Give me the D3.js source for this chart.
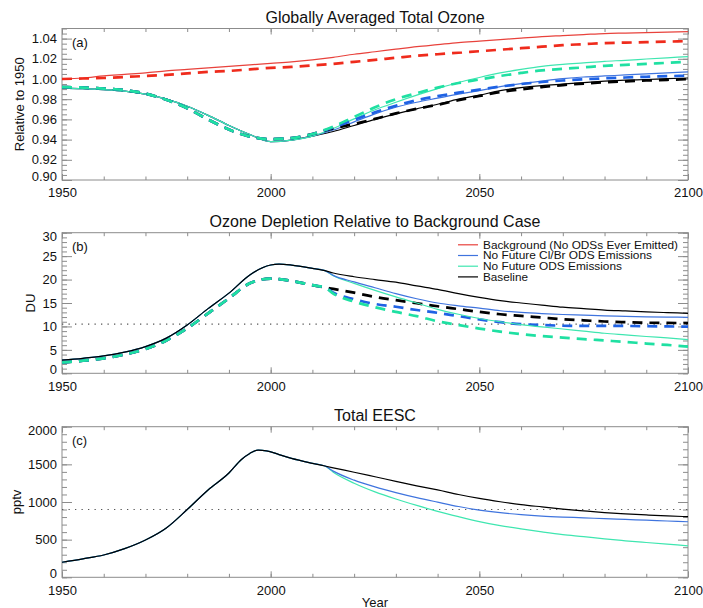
<!DOCTYPE html>
<html>
<head>
<meta charset="utf-8">
<script src="https://cdn.jsdelivr.net/npm/d3@7"></script>
<style>
  body { margin: 0; background: #fff; }
  svg { display: block; }
  text { font-family: "Liberation Sans", Arial, Helvetica, sans-serif; fill: #111; }
</style>
</head>
<body>
<svg id="chart" width="703" height="608"></svg>
<script>
// ---------------- Panel (a): globally averaged total ozone, relative to 1950 ----------------
const ozoneYearsShared = [1950,1955,1960,1965,1970,1975,1980,1985,1990,1995,2000,2005,2010];
const ozoneYearsBranch = [2015,2020,2025,2030,2035,2040,2045,2050,2055,2060,2065,2070,2075,2080,2085,2090,2095,2100];

const ozoneBackgroundSolid = [1.000,1.001,1.003,1.0045,1.006,1.008,1.0095,1.011,1.0125,1.014,1.0155,1.017,1.019,
  1.0215,1.0245,1.027,1.0295,1.032,1.034,1.036,1.0375,1.039,1.0405,1.042,1.043,1.044,1.045,1.0455,1.046,1.0465,1.047];
const ozoneBackgroundDashed = [1.000,1.0005,1.001,1.002,1.003,1.004,1.0055,1.007,1.008,1.0095,1.011,1.012,1.0135,
  1.015,1.017,1.019,1.021,1.023,1.0245,1.026,1.0275,1.029,1.0305,1.032,1.0335,1.0345,1.0355,1.036,1.0365,1.037,1.0375];

const ozoneSolidShared  = [0.991,0.9905,0.9895,0.988,0.985,0.980,0.973,0.964,0.954,0.945,0.938,0.9395,0.9435];
const ozoneDashedShared = [0.992,0.9915,0.9905,0.989,0.9855,0.9795,0.971,0.960,0.950,0.943,0.9405,0.9415,0.9455];

const ozoneBaselineSolid = [0.948,0.954,0.960,0.9655,0.9705,0.975,0.980,0.984,0.9885,0.9915,0.9935,0.995,0.9965,0.9978,0.9988,0.9995,1.0003,1.001];
const ozoneNoClBrSolid   = [0.9495,0.9575,0.9655,0.972,0.977,0.981,0.985,0.9885,0.9925,0.9955,0.998,1.0003,1.002,1.003,1.004,1.005,1.006,1.007];
const ozoneNoOdsSolid    = [0.951,0.9605,0.9695,0.977,0.984,0.9905,0.9965,1.0015,1.006,1.0095,1.0125,1.0145,1.016,1.0175,1.0185,1.0198,1.021,1.0222];

const ozoneBaselineDashed = [0.951,0.9555,0.9605,0.966,0.9705,0.9745,0.979,0.9832,0.987,0.9898,0.992,0.994,0.9955,0.9967,0.9977,0.9985,0.9992,0.9998];
const ozoneNoClBrDashed   = [0.952,0.9595,0.967,0.9735,0.979,0.983,0.9865,0.9895,0.9925,0.995,0.997,0.9985,0.9997,1.0007,1.0015,1.0022,1.0028,1.0033];
const ozoneNoOdsDashed    = [0.953,0.9625,0.972,0.980,0.986,0.9915,0.996,0.9995,1.003,1.006,1.0085,1.010,1.0115,1.013,1.014,1.015,1.016,1.017];
const ozoneTicks = [0.90,0.92,0.94,0.96,0.98,1.00,1.02,1.04];

// ---------------- Panel (b): ozone depletion relative to background (DU) ----------------
const depYearsShared = [1950,1955,1960,1965,1970,1975,1980,1985,1990,1995,2000,2002,2005,2010,2013];
const depYearsBranch = [2015,2020,2025,2030,2035,2040,2045,2050,2055,2060,2065,2070,2075,2080,2085,2090,2095,2100];

const depSolidShared  = [2.8,3.2,3.7,4.5,5.7,7.5,10.3,13.8,17.1,21.0,23.1,23.3,23.1,22.4,21.9];
const depDashedShared = [2.3,2.7,3.2,4.0,5.2,7.0,9.6,12.8,16.0,19.2,20.2,20.1,19.7,18.8,18.3];

const depBaselineSolid = [21.4,20.6,20.0,19.45,18.65,17.9,17.0,16.2,15.5,15.0,14.55,14.1,13.8,13.5,13.3,13.1,12.95,12.8];
const depNoClBrSolid   = [20.9,19.5,18.25,17.0,15.9,15.0,14.4,13.9,13.35,13.0,12.75,12.55,12.4,12.25,12.15,12.05,12.0,11.95];
const depNoOdsSolid    = [20.8,19.2,17.7,16.3,15.0,13.65,12.6,11.7,11.0,10.4,9.9,9.45,9.0,8.55,8.2,7.85,7.55,7.2];

const depBaselineDashed = [18.0,17.2,16.3,15.6,14.95,14.3,13.7,13.1,12.6,12.25,11.9,11.55,11.3,11.05,10.9,10.8,10.75,10.7];
const depNoClBrDashed   = [17.2,15.8,14.8,14.2,13.5,12.9,12.2,11.5,10.9,10.5,10.3,10.15,10.1,10.1,10.1,10.05,10.0,9.95];
const depNoOdsDashed    = [17.0,15.3,14.1,13.1,12.2,11.1,10.3,9.55,8.9,8.35,7.95,7.6,7.3,7.0,6.7,6.35,6.05,5.7];
const depReference = 10.5;
const depTicks = [0,5,10,15,20,25,30];

// ---------------- Panel (c): total EESC (pptv) ----------------
const eescYearsShared = [1950,1955,1960,1965,1970,1975,1980,1985,1990,1993,1995,1997,1999,2002,2005,2010,2013];
const eescYearsBranch = [2015,2020,2025,2030,2035,2040,2045,2050,2055,2060,2065,2070,2075,2080,2085,2090,2095,2100];

const eescShared   = [200,245,296,380,495,655,900,1160,1385,1565,1645,1690,1680,1630,1580,1514,1478];
const eescBaseline = [1454,1395,1335,1275,1215,1160,1100,1047,1003,965,935,906,882,860,843,828,815,805];
const eescNoClBr   = [1410,1290,1200,1125,1058,998,940,893,858,832,813,800,790,778,768,758,748,738];
const eescNoOds    = [1395,1250,1135,1040,955,875,805,740,687,643,603,567,540,510,485,462,440,418];
const eescReference = 900;
const eescTicks = [0,500,1000,1500,2000];

// ---------------- Legend / scenarios ----------------
const scenarioNames = ["Background (No ODSs Ever Emitted)", "No Future Cl/Br ODS Emissions", "No Future ODS Emissions", "Baseline"];
const yearTicks = [1950,2000,2050,2100];

const colors = {
  background: "#e8423c", backgroundDash: "#ef2b1c",
  noClBr: "#3f74de", noClBrDash: "#1f62e4",
  noOds: "#3fe6b0", noOdsDash: "#1fe0a2",
  baseline: "#000000", baselineDash: "#000000"
};
const legendColors = [colors.background, colors.noClBr, colors.noOds, colors.baseline];

// ---------------- Layout ----------------
const svg = d3.select("#chart");
svg.append("rect").attr("width", 703).attr("height", 608).attr("fill", "#fff");

const X0 = 62, X1 = 688;
const x = d3.scaleLinear().domain([1950, 2100]).range([X0, X1]);
const frameColor = "#8c8c8c";

function series(ys, vs, yb, vb) {
  const years = ys.concat(yb), vals = vs.concat(vb);
  return years.map((yr, i) => ({ year: yr, v: vals[i] }));
}

function drawPanel(cfg) {
  const y = d3.scaleLinear().domain(cfg.domain).range([cfg.bottom, cfg.top]);
  const g = svg.append("g");
  const clipId = "clip-" + cfg.key;
  svg.append("clipPath").attr("id", clipId).append("rect")
    .attr("x", X0).attr("y", cfg.top).attr("width", X1 - X0).attr("height", cfg.bottom - cfg.top);

  // minor and major ticks on all four sides, pointing inward
  const xMinor = d3.range(1950, 2101, 10);
  const addAxis = (gen, tx, ty) => {
    const a = g.append("g").attr("transform", `translate(${tx},${ty})`).call(gen);
    a.select(".domain").remove();
    a.selectAll("line").attr("stroke", frameColor).attr("stroke-width", 1);
    a.selectAll("text").attr("font-size", 13).attr("fill", "#111")
      .attr("font-family", "'Liberation Sans', Arial, sans-serif");
    return a;
  };
  addAxis(d3.axisBottom(x).tickValues(xMinor).tickSize(-3.5).tickFormat(""), 0, cfg.bottom);
  addAxis(d3.axisTop(x).tickValues(xMinor).tickSize(-3.5).tickFormat(""), 0, cfg.top);
  addAxis(d3.axisBottom(x).tickValues(yearTicks).tickSize(-6).tickPadding(8).tickFormat(d3.format("d")), 0, cfg.bottom);
  addAxis(d3.axisTop(x).tickValues(yearTicks).tickSize(-6).tickFormat(""), 0, cfg.top);

  addAxis(d3.axisLeft(y).tickValues(cfg.minor).tickSize(-5).tickFormat(""), X0, 0);
  addAxis(d3.axisRight(y).tickValues(cfg.minor).tickSize(-5).tickFormat(""), X1, 0);
  const yAx = addAxis(d3.axisLeft(y).tickValues(cfg.ticks).tickSize(-10).tickPadding(5).tickFormat(cfg.fmt), X0, 0);
  addAxis(d3.axisRight(y).tickValues(cfg.ticks).tickSize(-10).tickFormat(""), X1, 0);

  // labels sitting on the frame edges are nudged inside the frame height
  const [d0, d1] = cfg.domain;
  yAx.selectAll(".tick text").attr("dy", d => {
    if (Math.abs(d - d0) < 1e-9) return "-0.0em";
    if (Math.abs(d - d1) < 1e-9) return "0.62em";
    return "0.32em";
  });

  g.append("rect").attr("x", X0).attr("y", cfg.top).attr("width", X1 - X0).attr("height", cfg.bottom - cfg.top)
    .attr("fill", "none").attr("stroke", frameColor).attr("stroke-width", 1);

  const plot = g.append("g").attr("clip-path", `url(#${clipId})`);

  if (cfg.reference !== undefined) {
    plot.append("line").attr("x1", X0).attr("x2", X1)
      .attr("y1", y(cfg.reference)).attr("y2", y(cfg.reference))
      .attr("stroke", "#555").attr("stroke-width", 1.1).attr("stroke-dasharray", "1.3,5.2");
  }

  const line = d3.line().x(d => x(d.year)).y(d => y(d.v)).curve(d3.curveMonotoneX);
  cfg.lines.forEach(l => {
    plot.append("path").datum(l.data).attr("d", line)
      .attr("fill", "none").attr("stroke", l.color)
      .attr("stroke-width", l.dashed ? 2.7 : 1.2)
      .attr("stroke-dasharray", l.dashed ? "10,7" : null)
      .attr("stroke-linejoin", "round");
  });

  // title, panel letter, y-axis title
  g.append("text").attr("x", (X0 + X1) / 2).attr("y", cfg.titleY).attr("text-anchor", "middle")
    .attr("font-size", 16).text(cfg.title);
  g.append("text").attr("x", 72).attr("y", cfg.top + 18).attr("font-size", 13).text(cfg.letter);
  g.append("text").attr("transform", `translate(${cfg.ylabelX},${(cfg.top + cfg.bottom) / 2}) rotate(-90)`)
    .attr("text-anchor", "middle").attr("font-size", 13).text(cfg.ylabel);
  return { g, y };
}

// Panel (a)
drawPanel({
  key: "a", top: 28.5, bottom: 180, domain: [0.9, 1.05],
  ticks: ozoneTicks, minor: d3.range(0, 31).map(i => 0.9 + i * 0.005), fmt: d3.format(".2f"),
  title: "Globally Averaged Total Ozone", titleY: 22.5, letter: "(a)",
  ylabel: "Relative to 1950", ylabelX: 24,
  lines: [
    { data: series(ozoneYearsShared, ozoneSolidShared, ozoneYearsBranch, ozoneBaselineSolid), color: colors.baseline },
    { data: series(ozoneYearsShared, ozoneSolidShared, ozoneYearsBranch, ozoneNoClBrSolid), color: colors.noClBr },
    { data: series(ozoneYearsShared, ozoneSolidShared, ozoneYearsBranch, ozoneNoOdsSolid), color: colors.noOds },
    { data: series(ozoneYearsShared, ozoneDashedShared, ozoneYearsBranch, ozoneBaselineDashed), color: colors.baselineDash, dashed: true },
    { data: series(ozoneYearsShared, ozoneDashedShared, ozoneYearsBranch, ozoneNoClBrDashed), color: colors.noClBrDash, dashed: true },
    { data: series(ozoneYearsShared, ozoneDashedShared, ozoneYearsBranch, ozoneNoOdsDashed), color: colors.noOdsDash, dashed: true },
    { data: series(ozoneYearsShared, ozoneBackgroundSolid.slice(0, 13), ozoneYearsBranch, ozoneBackgroundSolid.slice(13)), color: colors.background },
    { data: series(ozoneYearsShared, ozoneBackgroundDashed.slice(0, 13), ozoneYearsBranch, ozoneBackgroundDashed.slice(13)), color: colors.backgroundDash, dashed: true }
  ]
});

// Panel (b)
const pb = drawPanel({
  key: "b", top: 232.7, bottom: 373.3, domain: [0, 30],
  ticks: depTicks, minor: d3.range(0, 31), fmt: d3.format("d"),
  title: "Ozone Depletion Relative to Background Case", titleY: 226.5, letter: "(b)",
  ylabel: "DU", ylabelX: 35, reference: depReference,
  lines: [
    { data: series(depYearsShared, depDashedShared, depYearsBranch, depBaselineDashed), color: colors.baselineDash, dashed: true },
    { data: series(depYearsShared, depDashedShared, depYearsBranch, depNoClBrDashed), color: colors.noClBrDash, dashed: true },
    { data: series(depYearsShared, depDashedShared, depYearsBranch, depNoOdsDashed), color: colors.noOdsDash, dashed: true },
    { data: series(depYearsShared, depSolidShared, depYearsBranch, depNoOdsSolid), color: colors.noOds },
    { data: series(depYearsShared, depSolidShared, depYearsBranch, depNoClBrSolid), color: colors.noClBr },
    { data: series(depYearsShared, depSolidShared, depYearsBranch, depBaselineSolid), color: colors.baseline }
  ]
});

// legend inside panel (b)
const legend = pb.g.append("g");
scenarioNames.forEach((name, i) => {
  const ly = 244.8 + i * 10.7;
  legend.append("line").attr("x1", 458).attr("x2", 478).attr("y1", ly).attr("y2", ly)
    .attr("stroke", legendColors[i]).attr("stroke-width", 1.2);
  legend.append("text").attr("x", 483).attr("y", ly + 3.8).attr("font-size", 11.5)
    .attr("textLength", [195, 169, 139, 45][i]).attr("lengthAdjust", "spacingAndGlyphs").text(name);
});

// Panel (c)
drawPanel({
  key: "c", top: 426.7, bottom: 577.3, domain: [0, 2000],
  ticks: eescTicks, minor: d3.range(0, 2001, 100), fmt: d3.format("d"),
  title: "Total EESC", titleY: 420.5, letter: "(c)",
  ylabel: "pptv", ylabelX: 21, reference: eescReference,
  lines: [
    { data: series(eescYearsShared, eescShared, eescYearsBranch, eescNoOds), color: colors.noOds },
    { data: series(eescYearsShared, eescShared, eescYearsBranch, eescNoClBr), color: colors.noClBr },
    { data: series(eescYearsShared, eescShared, eescYearsBranch, eescBaseline), color: colors.baseline }
  ]
});

svg.append("text").attr("x", (X0 + X1) / 2).attr("y", 606.5).attr("text-anchor", "middle")
  .attr("font-size", 13).text("Year");
</script>
</body>
</html>
